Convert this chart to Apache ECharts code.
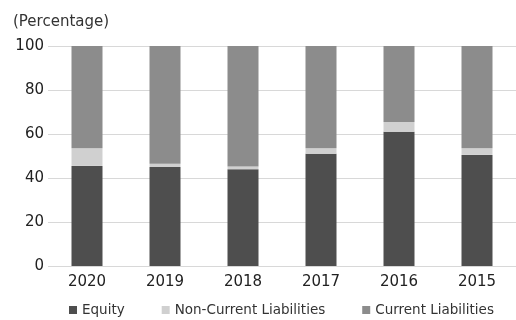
<!DOCTYPE html>
<html>
<head>
<meta charset="utf-8">
<script src="https://cdn.jsdelivr.net/npm/echarts@6/dist/echarts.min.js"></script>
<style>
  html, body { margin: 0; padding: 0; background: #fff; }
  #chart { width: 516px; height: 320px; }
</style>
</head>
<body>
<div id="chart"></div>
<script>
const years = ["2020", "2019", "2018", "2017", "2016", "2015"];
const equity = [45.5, 45, 44, 51, 61, 50.5];
const nonCurrent = [8, 1.5, 1.2, 2.5, 4.5, 3];
const current = years.map((_, i) => +(100 - equity[i] - nonCurrent[i]).toFixed(1));

const chart = echarts.init(document.getElementById("chart"));
const font = "DejaVu Sans, sans-serif";

chart.setOption({
  animation: false,
  textStyle: { fontFamily: font },
  grid: { left: 48, right: -7, top: 46, bottom: 54 },
  legend: {
    top: 298,
    left: 64,
    itemWidth: 8,
    itemHeight: 8,
    itemGap: 37,
    icon: "rect",
    textStyle: { color: "#333", fontSize: 13.5, fontFamily: font },
    data: ["Equity", "Non-Current Liabilities", "Current Liabilities"],
  },
  graphic: [
    {
      type: "text",
      left: 13,
      top: 15,
      style: { text: "(Percentage)", fill: "#333", fontSize: 15, fontFamily: font },
    },
  ],
  xAxis: {
    type: "category",
    data: years,
    axisLine: { show: false },
    axisTick: { show: false },
    axisLabel: { color: "#222", fontSize: 15, margin: 9 },
  },
  yAxis: {
    type: "value",
    min: 0,
    max: 100,
    interval: 20,
    axisLabel: { color: "#222", fontSize: 15, margin: 4 },
    splitLine: { lineStyle: { color: "#d8d8d8", width: 1 } },
  },
  series: [
    {
      name: "Equity",
      type: "bar",
      stack: "total",
      barWidth: 31,
      data: equity,
      itemStyle: { color: "#4e4e4e" },
    },
    {
      name: "Non-Current Liabilities",
      type: "bar",
      stack: "total",
      data: nonCurrent,
      itemStyle: { color: "#d0d0d0" },
    },
    {
      name: "Current Liabilities",
      type: "bar",
      stack: "total",
      data: current,
      itemStyle: { color: "#8c8c8c" },
    },
  ],
});
</script>
</body>
</html>
